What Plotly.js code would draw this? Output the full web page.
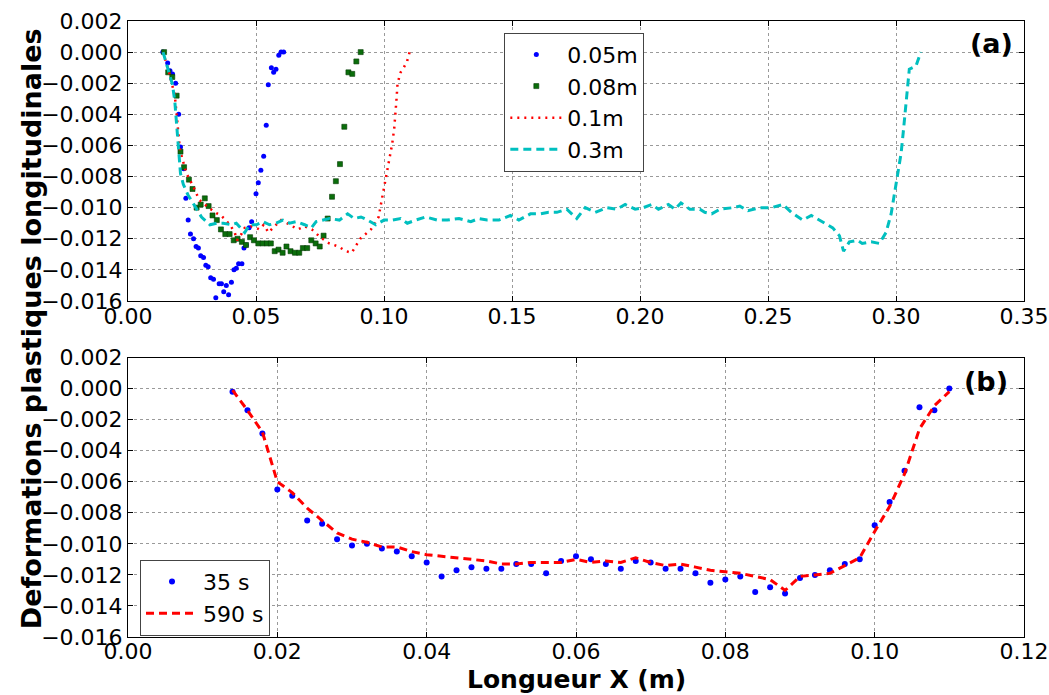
<!DOCTYPE html>
<html>
<head>
<meta charset="utf-8">
<script src="https://cdn.plot.ly/plotly-3.0.1.min.js"></script>
<style>html,body{margin:0;padding:0;background:#fff;}#chart{width:1049px;height:695px;}</style>
</head>
<body>
<div id="chart"></div>
<script>
// ---- Panel (a) data ----
const x005 = [0.0136,0.0155,0.0164,0.0174,0.0186,0.0198,0.0205,0.0218,0.0226,0.0235,0.0244,0.0256,0.0266,0.0275,0.0284,0.0295,0.0304,0.0313,0.0323,0.0334,0.0343,0.0356,0.0365,0.0374,0.0384,0.0393,0.0404,0.0414,0.0423,0.0432,0.0445,0.0453,0.0462,0.0473,0.0483,0.0500,0.0509,0.0519,0.0530,0.0540,0.0548,0.0560,0.0569,0.0578,0.0589,0.0598,0.0608];
const y005 = [0.0000,-0.0007,-0.0012,-0.0014,-0.0020,-0.0040,-0.0061,-0.0075,-0.0094,-0.0108,-0.0117,-0.0120,-0.0125,-0.0126,-0.0131,-0.0132,-0.0137,-0.0138,-0.0145,-0.0146,-0.0158,-0.0149,-0.0149,-0.0154,-0.0150,-0.0156,-0.0148,-0.0140,-0.0139,-0.0136,-0.0136,-0.0126,-0.0124,-0.0113,-0.0109,-0.0091,-0.0084,-0.0076,-0.0067,-0.0047,-0.0021,-0.0010,-0.0013,-0.0011,-0.0002,0.0000,0.0000];

const x008 = [0.0141,0.0157,0.0173,0.0190,0.0205,0.0219,0.0238,0.0252,0.0268,0.0284,0.0300,0.0315,0.0330,0.0347,0.0363,0.0380,0.0397,0.0413,0.0428,0.0445,0.0461,0.0477,0.0492,0.0509,0.0526,0.0543,0.0558,0.0573,0.0588,0.0604,0.0619,0.0635,0.0652,0.0669,0.0683,0.0700,0.0716,0.0733,0.0749,0.0764,0.0780,0.0797,0.0812,0.0828,0.0845,0.0861,0.0876,0.0892,0.0909];
const y008 = [0.0000,-0.0013,-0.0016,-0.0028,-0.0064,-0.0074,-0.0082,-0.0088,-0.0100,-0.0098,-0.0094,-0.0099,-0.0105,-0.0108,-0.0114,-0.0117,-0.0117,-0.0121,-0.0120,-0.0122,-0.0124,-0.0119,-0.0121,-0.0123,-0.0123,-0.0123,-0.0123,-0.0128,-0.0127,-0.0129,-0.0125,-0.0128,-0.0129,-0.0129,-0.0126,-0.0126,-0.0121,-0.0123,-0.0125,-0.0118,-0.0107,-0.0093,-0.0083,-0.0072,-0.0048,-0.0013,-0.0014,-0.0006,0.0000];

const x010 = [0.0137,0.0160,0.0183,0.0194,0.0203,0.0213,0.0228,0.0254,0.0278,0.0315,0.0339,0.0363,0.0382,0.0402,0.0417,0.0426,0.0443,0.0456,0.0480,0.0500,0.0513,0.0530,0.0549,0.0572,0.0598,0.0621,0.0643,0.0664,0.0690,0.0718,0.0751,0.0786,0.0822,0.0852,0.0874,0.0907,0.0949,0.0979,0.0989,0.1000,0.1010,0.1022,0.1032,0.1040,0.1045,0.1049,0.1053,0.1065,0.1077,0.1090,0.1100];
const y010 = [0.0000,-0.0013,-0.0028,-0.0050,-0.0063,-0.0069,-0.0078,-0.0086,-0.0095,-0.0100,-0.0103,-0.0105,-0.0108,-0.0112,-0.0116,-0.0121,-0.0117,-0.0113,-0.0112,-0.0113,-0.0114,-0.0111,-0.0116,-0.0112,-0.0108,-0.0110,-0.0112,-0.0114,-0.0112,-0.0114,-0.0119,-0.0123,-0.0125,-0.0128,-0.0129,-0.0120,-0.0114,-0.0106,-0.0097,-0.0087,-0.0077,-0.0068,-0.0059,-0.0049,-0.0040,-0.0030,-0.0020,-0.0013,-0.0010,-0.0006,0.0000];

const x030 = [0.0137,0.0157,0.0174,0.0183,0.0192,0.0200,0.0205,0.0216,0.0235,0.0261,
  0.0287,0.0320,0.0346,0.0372,0.0404,0.0423,0.0456,0.0475,0.0501,0.0527,
  0.0553,0.0579,0.0605,0.0631,0.0657,0.0690,0.0716,0.0735,0.0761,0.0787,
  0.0826,0.0858,0.0884,0.0910,0.0936,0.0968,0.1000,0.1033,0.1065,0.1091,
  0.1124,0.1163,0.1208,0.1247,0.1293,0.1339,0.1370,0.1403,0.1449,0.1494,
  0.1527,0.1572,0.1611,0.1643,0.1675,0.1714,0.1753,0.1786,0.1825,0.1870,
  0.1909,0.1942,0.1981,0.2013,0.2046,0.2072,0.2111,0.2137,0.2160,0.2195,
  0.2234,0.2253,0.2280,0.2312,0.2364,0.2390,0.2422,0.2468,0.2513,0.2558,
  0.2591,0.2636,0.2669,0.2714,0.2753,0.2779,0.2795,0.2818,0.2850,0.2868,
  0.2903,0.2935,0.2961,0.2981,0.2994,0.3007,0.3020,0.3028,0.3036,0.3043,
  0.3052,0.3078,0.3093,0.3097];
const y030 = [0.0000,-0.0011,-0.0021,-0.0032,-0.0052,-0.0067,-0.0078,-0.0085,-0.0092,-0.0099,
  -0.0106,-0.0111,-0.0110,-0.0110,-0.0111,-0.0110,-0.0116,-0.0111,-0.0111,-0.0109,
  -0.0111,-0.0110,-0.0108,-0.0110,-0.0109,-0.0111,-0.0113,-0.0109,-0.0108,-0.0107,
  -0.0108,-0.0104,-0.0107,-0.0106,-0.0108,-0.0111,-0.0108,-0.0108,-0.0107,-0.0110,
  -0.0108,-0.0106,-0.0108,-0.0108,-0.0107,-0.0109,-0.0107,-0.0108,-0.0108,-0.0105,
  -0.0108,-0.0104,-0.0104,-0.0103,-0.0103,-0.0101,-0.0107,-0.0100,-0.0103,-0.0100,
  -0.0101,-0.0098,-0.0101,-0.0100,-0.0098,-0.0101,-0.0098,-0.0101,-0.0097,-0.0101,
  -0.0101,-0.0103,-0.0104,-0.0101,-0.0100,-0.0099,-0.0102,-0.0100,-0.0100,-0.0098,
  -0.0103,-0.0108,-0.0105,-0.0109,-0.0113,-0.0118,-0.0128,-0.0122,-0.0121,-0.0123,
  -0.0122,-0.0123,-0.0116,-0.0104,-0.0091,-0.0080,-0.0065,-0.0052,-0.0037,-0.0024,
  -0.0011,-0.0009,-0.0002,0.0000];

// ---- Panel (b) data ----
const xB = [0.014,0.016,0.018,0.020,0.022,0.024,0.026,0.028,0.030,0.032,0.034,0.036,0.038,0.040,0.042,0.044,0.046,0.048,0.050,0.052,0.054,0.056,0.058,0.060,0.062,0.064,0.066,0.068,0.070,0.072,0.074,0.076,0.078,0.080,0.082,0.084,0.086,0.088,0.090,0.092,0.094,0.096,0.098,0.100,0.102,0.104,0.106,0.108,0.110];
const y35s = [-0.0002,-0.0014,-0.0029,-0.0065,-0.0069,-0.0085,-0.0087,-0.0097,-0.0101,-0.0100,
  -0.0103,-0.0105,-0.0108,-0.0112,-0.0121,-0.0117,-0.0115,-0.0116,-0.0116,-0.0113,
  -0.0113,-0.0119,-0.0111,-0.0108,-0.0110,-0.0113,-0.0116,-0.0111,-0.0112,-0.0116,
  -0.0116,-0.0119,-0.0125,-0.0123,-0.0121,-0.0131,-0.0128,-0.0132,-0.0122,-0.0120,
  -0.0117,-0.0113,-0.0110,-0.0088,-0.0073,-0.0053,-0.0012,-0.0014,0.0000];
const y590s = [-0.0001,-0.0014,-0.0028,-0.0060,-0.0067,-0.0077,-0.0085,-0.0093,-0.0097,-0.0099,
  -0.0102,-0.0102,-0.0105,-0.0107,-0.0108,-0.0109,-0.0110,-0.0111,-0.0113,-0.0113,
  -0.0112,-0.0112,-0.0112,-0.0110,-0.0112,-0.0111,-0.0112,-0.0109,-0.0112,-0.0114,
  -0.0113,-0.0115,-0.0117,-0.0118,-0.0119,-0.0121,-0.0123,-0.0130,-0.0121,-0.0120,
  -0.0119,-0.0114,-0.0109,-0.0092,-0.0076,-0.0055,-0.0026,-0.0011,-0.0002];

const namesA = ['0.05m','0.08m','0.1m','0.3m'];
const namesB = ['35 s','590 s'];
const xTicksA = [0,0.05,0.10,0.15,0.20,0.25,0.30,0.35];
const xTicksB = [0,0.02,0.04,0.06,0.08,0.10,0.12];
const yTicks = [0.002,0,-0.002,-0.004,-0.006,-0.008,-0.010,-0.012,-0.014,-0.016];

const FONT = 'DejaVu Sans';
const TICK = 22, TITLE = 27, LEG = 22;

const traces = [
  {x:x005, y:y005, name:namesA[0], mode:'markers', type:'scatter', xaxis:'x', yaxis:'y', legend:'legend',
   marker:{color:'#0000ff', size:5, symbol:'circle'}},
  {x:x008, y:y008, name:namesA[1], mode:'markers', type:'scatter', xaxis:'x', yaxis:'y', legend:'legend',
   marker:{color:'#0b6e0b', size:5, symbol:'square', line:{color:'#053a05', width:0.6}}},
  {x:x010, y:y010, name:namesA[2], mode:'lines', type:'scatter', xaxis:'x', yaxis:'y', legend:'legend',
   line:{color:'#ff0000', width:2.5, dash:'2px,5px'}},
  {x:x030, y:y030, name:namesA[3], mode:'lines', type:'scatter', xaxis:'x', yaxis:'y', legend:'legend',
   line:{color:'#00bfbf', width:3, dash:'8px,5px'}},
  {x:xB, y:y35s, name:namesB[0], mode:'markers', type:'scatter', xaxis:'x2', yaxis:'y2', legend:'legend2',
   marker:{color:'#0000ff', size:6, symbol:'circle'}},
  {x:xB, y:y590s, name:namesB[1], mode:'lines', type:'scatter', xaxis:'x2', yaxis:'y2', legend:'legend2',
   line:{color:'#ff0000', width:3, dash:'8px,5px'}}
];

function axisBase(){
  return {
    showline:true, linecolor:'#000', linewidth:1, mirror:'ticks',
    ticks:'inside', ticklen:5, tickcolor:'#000', tickwidth:1,
    showgrid:true, gridcolor:'#9a9a9a', griddash:'dot', gridwidth:1,
    zeroline:false, tickfont:{family:FONT, size:TICK, color:'#000'}
  };
}

const layout = {
  width:1049, height:695,
  margin:{l:128, r:25, t:21, b:58},
  paper_bgcolor:'#fff', plot_bgcolor:'#fff',
  font:{family:FONT, color:'#000'},
  xaxis: Object.assign(axisBase(), {domain:[0,1], anchor:'y', range:[0,0.35], tickvals:xTicksA, tickformat:'.2f', ticklabelstandoff:-4}),
  yaxis: Object.assign(axisBase(), {domain:[0.5455,1], anchor:'x', range:[-0.016,0.002], tickvals:yTicks, tickformat:'.3f'}),
  xaxis2: Object.assign(axisBase(), {domain:[0,1], anchor:'y2', range:[0,0.12], tickvals:xTicksB, tickformat:'.2f', ticklabelstandoff:-5}),
  yaxis2: Object.assign(axisBase(), {domain:[0,0.4537], anchor:'x2', range:[-0.016,0.002], tickvals:yTicks, tickformat:'.3f'}),
  legend:{x:0.42, y:0.981, xanchor:'left', yanchor:'top', bgcolor:'#fff', bordercolor:'#444', borderwidth:1,
    itemwidth:52, font:{family:FONT, size:LEG, color:'#000'}, tracegroupgap:0},
  legend2:{x:0.0134, y:0.002, xanchor:'left', yanchor:'bottom', bgcolor:'#fff', bordercolor:'#444', borderwidth:1,
    itemwidth:52, font:{family:FONT, size:LEG, color:'#000'}},
  annotations:[
    {text:'(a)', xref:'x domain', yref:'y domain', x:1, y:0.92, xanchor:'right', yanchor:'middle', xshift:-9,
     showarrow:false, font:{family:FONT, size:TITLE, weight:'bold', color:'#000'}},
    {text:'(b)', xref:'x2 domain', yref:'y2 domain', x:1, y:0.913, xanchor:'right', yanchor:'middle', xshift:-14,
     showarrow:false, font:{family:FONT, size:TITLE, weight:'bold', color:'#000'}},
    {text:'Longueur X (m)', xref:'paper', yref:'paper', x:0.5, y:-0.0415, xanchor:'center', yanchor:'top',
     showarrow:false, font:{family:FONT, size:25, weight:'bold', color:'#000'}},
    {text:'Deformations plastiques longitudinales', xref:'paper', yref:'paper', x:-0.108, y:0.5, textangle:-90,
     xanchor:'center', yanchor:'middle', showarrow:false, font:{family:FONT, size:TITLE, weight:'bold', color:'#000'}}
  ],
  showlegend:true
};

Plotly.newPlot('chart', traces, layout, {displayModeBar:false, staticPlot:true});
</script>
</body>
</html>
